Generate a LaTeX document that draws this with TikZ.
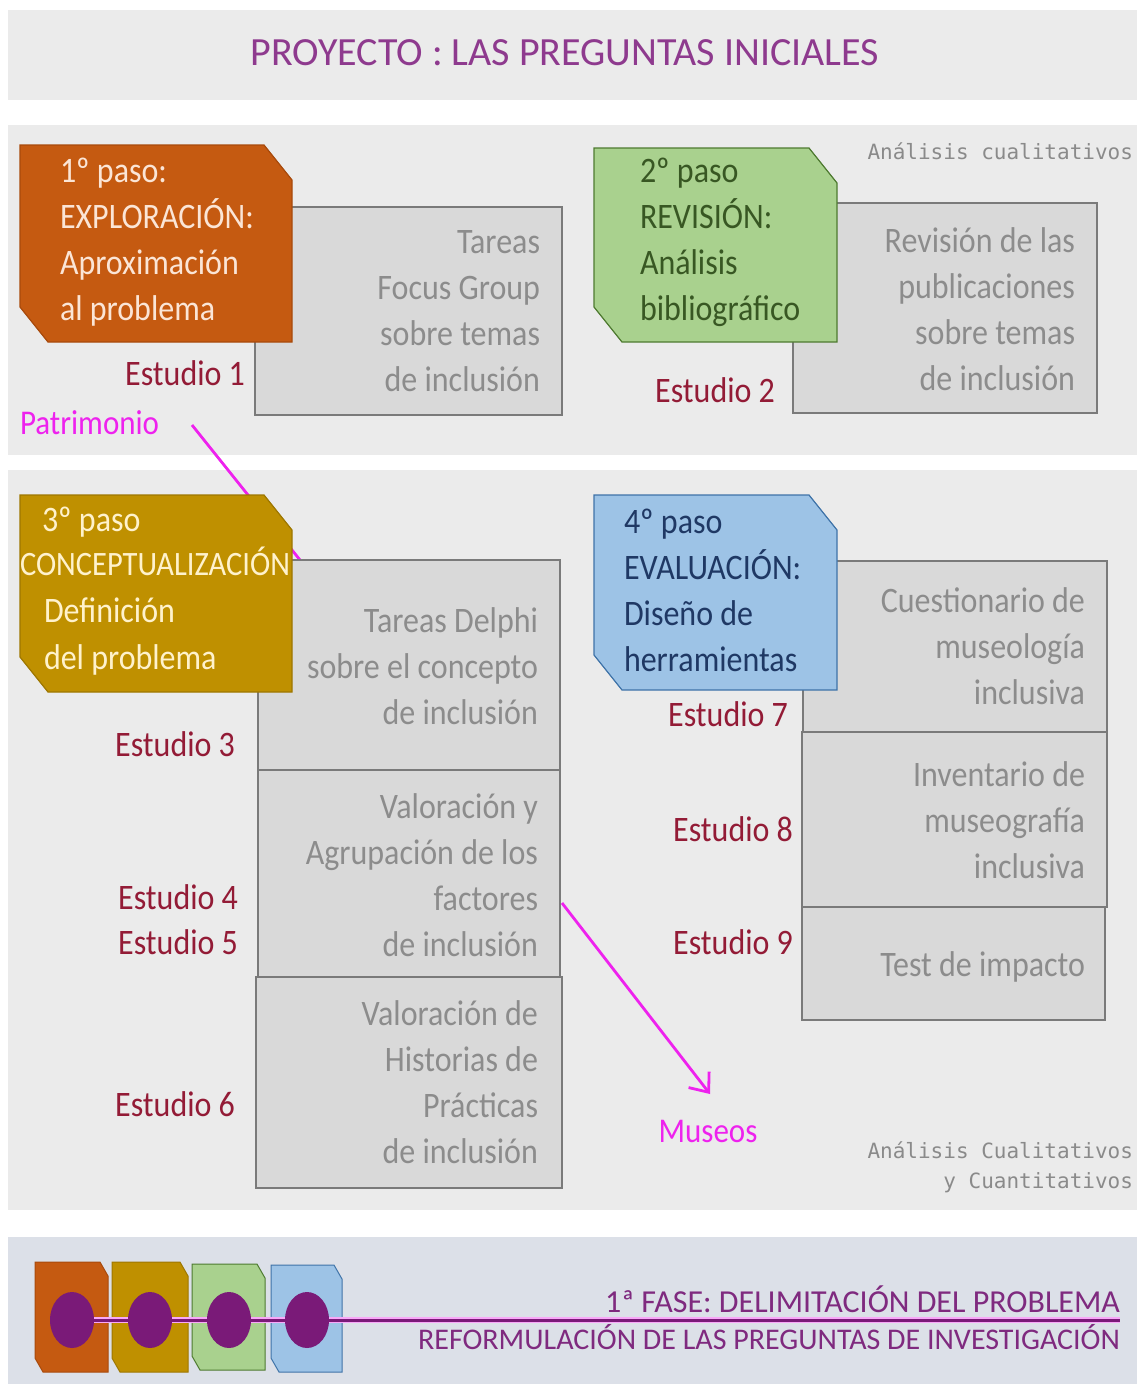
\documentclass[tikz,border=0pt]{standalone}
\usepackage{graphicx}
\usepackage{fontspec}
\setmainfont{Carlito}
\setmonofont{DejaVu Sans Mono}
\usetikzlibrary{arrows.meta,shapes.geometric}
\definecolor{panel}{HTML}{EBEBEB}
\definecolor{bottompanel}{HTML}{DCE0E8}
\definecolor{titlecol}{HTML}{8E3A8E}
\definecolor{orangef}{HTML}{C55A11}
\definecolor{oranged}{HTML}{A84A0C}
\definecolor{oranget}{HTML}{FBE5D6}
\definecolor{goldf}{HTML}{BF9000}
\definecolor{goldd}{HTML}{9E7700}
\definecolor{goldt}{HTML}{FFF2CC}
\definecolor{greenf}{HTML}{A9D18E}
\definecolor{greend}{HTML}{4E7A30}
\definecolor{greent}{HTML}{385723}
\definecolor{bluef}{HTML}{9DC3E6}
\definecolor{blued}{HTML}{3F73A8}
\definecolor{bluet}{HTML}{1F3864}
\definecolor{grayf}{HTML}{D9D9D9}
\definecolor{grayd}{HTML}{7A7A7A}
\definecolor{grayt}{HTML}{8C8C8C}
\definecolor{estcol}{HTML}{931B36}
\definecolor{magcol}{HTML}{EE22EE}
\definecolor{monocol}{HTML}{8A8A8A}
\definecolor{purp}{HTML}{7A1A78}
\definecolor{bottomt}{HTML}{7F2A7F}
\newcommand\vst[1]{\scalebox{1}[1.12]{#1}}
\newcommand\mylines[6]{% prefix, anchor, x, y0, style, list
  \foreach \t [count=\i] in {#6}
    \node[#5, anchor=#2] (#1\i) at (#3, {#4+(\i-1)*46}) {\vst{\t}};}
% chamfered step shape: name, style, x1, y1, x2, y2 ; chamfer cx, cy
\newcommand\stepshape[8]{%
  \coordinate (#1) at (#3,#4);
  \draw[#2] (#3,#4) -- ({#5-#7},#4) -- (#5,{#4+#8}) -- (#5,#6) -- ({#3+#7},#6) -- (#3,{#6-#8}) -- cycle;}
\begin{document}
\begin{tikzpicture}[x=1pt,y=-1pt,
  every node/.style={inner sep=0pt, outer sep=0pt},
  gbox/.style={rectangle, fill=grayf, draw=grayd, line width=1.3pt, anchor=north west},
  gtxt/.style={font=\fontsize{32}{38}\selectfont, text=grayt},
  est/.style={font=\fontsize{32}{38}\selectfont, text=estcol},
  big/.style={font=\fontsize{32}{38}\selectfont},
  mono/.style={font=\ttfamily\fontsize{21}{26}\selectfont, text=monocol},
  magline/.style={draw=magcol, line width=2.8pt}
]
\useasboundingbox (0,0) rectangle (1137,1384);
\fill[white] (0,0) rectangle (1137,1384);
% panels
\fill[panel] (8,10) rectangle (1137,100);
\fill[panel] (8,125) rectangle (1137,455);
\fill[panel] (8,470) rectangle (1137,1210);
\fill[bottompanel] (8,1237) rectangle (1137,1384);

\node[anchor=base, font=\fontsize{40}{44}\selectfont, text=titlecol] (title) at (565,65) {PROYECTO : LAS PREGUNTAS INICIALES};

% ---------- section 1 ----------
\node[gbox, minimum width=307pt, minimum height=208pt] (g1) at (255,207) {};
\stepshape{s1}{fill=orangef, draw=oranged, line width=1.2pt}{20}{145}{292}{342}{28}{35}
\mylines{s1t}{base west}{60}{182}{big, text=oranget}{1º paso:,EXPLORACIÓN:,Aproximación,al problema}
\mylines{g1t}{base east}{540}{253}{gtxt}{Tareas,Focus Group,sobre temas,de inclusión}
\node[est, anchor=base east] (e1) at (245,385) {\vst{Estudio 1}};
\node[anchor=base west, font=\fontsize{31}{38}\selectfont, text=magcol] (pat) at (20,434) {\vst{Patrimonio}};

\node[gbox, minimum width=304pt, minimum height=210pt] (g2) at (793,203) {};
\stepshape{s2}{fill=greenf, draw=greend, line width=1.2pt}{594}{148}{837}{342}{28}{35}
\mylines{s2t}{base west}{640}{182}{big, text=greent}{2º paso,REVISIÓN:,Análisis,bibliográfico}
\mylines{g2t}{base east}{1075}{252}{gtxt}{Revisión de las,publicaciones,sobre temas,de inclusión}
\node[est, anchor=base east] (e2) at (775,402) {\vst{Estudio 2}};
\node[mono, anchor=base east] (m1) at (1133,159) {Análisis cualitativos};

% ---------- section 2 ----------
\coordinate (patA) at (192,425);
\coordinate (patB) at (300,560);
\draw[magline] (patA) -- (patB);

\node[gbox, minimum width=302pt, minimum height=210pt] (g3a) at (258,560) {};
\node[gbox, minimum width=302pt, minimum height=207pt] (g3b) at (258,770) {};
\node[gbox, minimum width=306pt, minimum height=211pt] (g3c) at (256,977) {};
\stepshape{s3}{fill=goldf, draw=goldd, line width=1.2pt}{20}{495}{292}{692}{28}{35}
\node[big, text=goldt, anchor=base west] (s3t1) at (42,531) {\vst{3º paso}};
\node[font=\fontsize{30.5}{38}\selectfont, text=goldt, anchor=base west] (s3t2) at (20,575) {\vst{CONCEPTUALIZACIÓN}};
\node[big, text=goldt, anchor=base west] (s3t3) at (44,622) {\vst{Definición}};
\node[big, text=goldt, anchor=base west] (s3t4) at (44,669) {\vst{del problema}};
\mylines{g3at}{base east}{538}{632}{gtxt}{Tareas Delphi,sobre el concepto,de inclusión}
\mylines{g3bt}{base east}{538}{818}{gtxt}{Valoración y,Agrupación de los,factores,de inclusión}
\mylines{g3ct}{base east}{538}{1025}{gtxt}{Valoración de,Historias de,Prácticas,de inclusión}
\node[est, anchor=base east] (e3) at (235,756) {\vst{Estudio 3}};
\node[est, anchor=base east] (e4) at (238,909) {\vst{Estudio 4}};
\node[est, anchor=base east] (e5) at (238,954) {\vst{Estudio 5}};
\node[est, anchor=base east] (e6) at (235,1116) {\vst{Estudio 6}};

\node[gbox, minimum width=304pt, minimum height=171pt] (g4a) at (803,561) {};
\node[gbox, minimum width=305pt, minimum height=175pt] (g4b) at (802,732) {};
\node[gbox, minimum width=303pt, minimum height=113pt] (g4c) at (802,907) {};
\stepshape{s4}{fill=bluef, draw=blued, line width=1.2pt}{594}{495}{837}{690}{28}{35}
\mylines{s4t}{base west}{624}{533}{big, text=bluet}{4º paso,EVALUACIÓN:,Diseño de,herramientas}
\mylines{g4at}{base east}{1085}{612}{gtxt}{Cuestionario de,museología,inclusiva}
\mylines{g4bt}{base east}{1085}{786}{gtxt}{Inventario de,museografía,inclusiva}
\node[gtxt, anchor=base east] (g4ct1) at (1085,976) {\vst{Test de impacto}};
\node[est, anchor=base east] (e7) at (788,726) {\vst{Estudio 7}};
\node[est, anchor=base east] (e8) at (793,841) {\vst{Estudio 8}};
\node[est, anchor=base east] (e9) at (793,954) {\vst{Estudio 9}};

\coordinate (musA) at (562,903);
\coordinate (musB) at (710,1094);
\draw[magline, -{Straight Barb[length=16pt,width=26pt,line width=2.8pt]}] (musA) -- (musB);
\node[anchor=base, font=\fontsize{31}{38}\selectfont, text=magcol] (mus) at (708,1142) {\vst{Museos}};
\node[mono, anchor=base east] (m2) at (1133,1158) {Análisis Cualitativos};
\node[mono, anchor=base east] (m3) at (1133,1188) {y Cuantitativos};

% ---------- bottom ----------
\stepshape{b1}{fill=orangef, draw=oranged, line width=1pt}{35}{1262}{108}{1372}{8}{14}
\stepshape{b2}{fill=goldf, draw=goldd, line width=1pt}{112}{1262}{188}{1372}{8}{14}
\stepshape{b3}{fill=greenf, draw=greend, line width=1pt}{192}{1264}{265}{1370}{8}{14}
\stepshape{b4}{fill=bluef, draw=blued, line width=1pt}{271}{1265}{342}{1372}{8}{14}
\coordinate (lineEnd) at (1120,1320);
\coordinate (lineStart) at (72,1320);
\draw[draw=magcol!40, line width=6pt] (lineStart) -- (lineEnd);
\draw[draw=purp, line width=3pt] (lineStart) -- (lineEnd);
\foreach \x/\n in {72/c1,150/c2,229/c3,307/c4}
  \node[ellipse, fill=purp, minimum width=44pt, minimum height=56pt] (\n) at (\x,1320) {};
\node[anchor=base east, font=\fontsize{32}{36}\selectfont, text=bottomt] (f1) at (1120,1312) {1ª FASE: DELIMITACIÓN DEL PROBLEMA};
\node[anchor=base east, font=\fontsize{30}{36}\selectfont, text=bottomt] (f2) at (1120,1349) {REFORMULACIÓN DE LAS PREGUNTAS DE INVESTIGACIÓN};
\end{tikzpicture}
\end{document}
